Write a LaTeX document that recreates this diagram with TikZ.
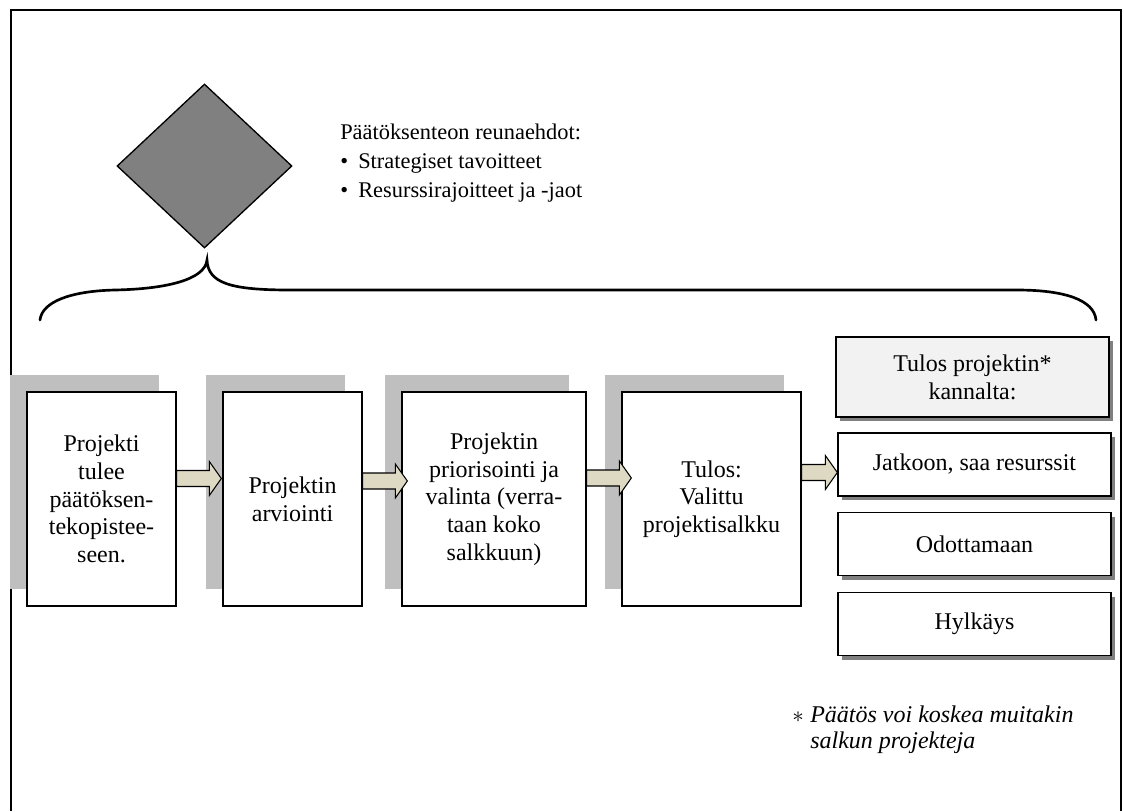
\documentclass[tikz,border=0pt]{standalone}
\usepackage{fontspec}
\setmainfont{Liberation Serif}
\usetikzlibrary{shapes.geometric,shadows,calc}
\definecolor{panelshadow}{RGB}{191,191,191}
\definecolor{boxshadow}{RGB}{128,128,128}
\definecolor{arrowfill}{RGB}{221,217,195}
\definecolor{headfill}{RGB}{242,242,242}
\definecolor{diamondgray}{RGB}{128,128,128}

% block arrow: source node, target node, y position, tip overshoot into target
\newcommand\stagearrow[4]{%
  \path (#1.east |- 0,#3) coordinate (sa-from) (#2.west |- 0,#3) coordinate (sa-to);
  \draw[barrow] ($(sa-from)+(0,-8)$) -- ($(sa-to)+(#4-12,-8)$) -- ($(sa-to)+(#4-12,-17)$)
    -- ($(sa-to)+(#4,0)$) -- ($(sa-to)+(#4-12,17)$) -- ($(sa-to)+(#4-12,8)$)
    -- ($(sa-from)+(0,8)$) -- cycle;
}

\begin{document}
\begin{tikzpicture}[x=0.75pt,y=-0.75pt,
  stage/.style={draw,line width=1pt,fill=white,inner sep=0pt,align=center,
    minimum height=160.5pt,font=\fontsize{18}{20.8}\selectfont,
    general shadow={fill=panelshadow,shadow xshift=-12.75pt,shadow yshift=13pt}},
  outcome/.style={draw,line width=1pt,fill=white,inner sep=0pt,align=center,
    minimum width=204.75pt,minimum height=47.25pt,font=\fontsize{18}{20.8}\selectfont,
    drop shadow={fill=boxshadow,opacity=1,shadow xshift=3pt,shadow yshift=-3pt}},
  barrow/.style={draw,line width=0.8pt,fill=arrowfill,line join=miter},
  brace/.style={line width=2pt,line cap=round},
]
\useasboundingbox (0,0) rectangle (1124,811);
\fill[white] (0,0) rectangle (1124,811);

% outer frame, open at the bottom
\draw[line width=1.5pt] (11,811) -- (11,9.5) -- (1121,9.5) -- (1121,811);

% decision point
\node[diamond,draw,line width=1pt,fill=diamondgray,inner sep=0pt,
  minimum width=131.25pt,minimum height=123pt] (gate) at (204.5,166) {};

% conditions list (base anchor sits on the last line)
\node[anchor=base west,align=left,inner sep=0pt,font=\fontsize{16.8}{21.75}\selectfont]
  (limits) at (340,197)
  {Päätöksenteon reunaehdot:\\
   \makebox[13.5pt][l]{•}Strategiset tavoitteet\\
   \makebox[13.5pt][l]{•}Resurssirajoitteet ja -jaot};

% curly brace under the decision point
\draw[brace] (40,320) .. controls (42,302) and (70,291) .. (115,290)
  .. controls (165,289) and (205,280) .. (207,260)
  .. controls (208,283) and (230,290) .. (290,290) -- (1017,290)
  .. controls (1065,290) and (1094,300) .. (1096,320);

% process stages
\node[stage,minimum width=111.75pt] (s1) at (101.5,499)
  {Projekti\\tulee\\päätöksen-\\tekopistee-\\seen.};
\node[stage,minimum width=104.25pt] (s2) at (292.5,499) {Projektin\\arviointi};
\node[stage,minimum width=138pt] (s3) at (494,499)
  {Projektin\\priorisointi ja\\valinta (verra-\\taan koko\\salkkuun)};
\node[stage,minimum width=134.25pt] (s4) at (711.5,499)
  {Tulos:\\Valittu\\projektisalkku};

% outcomes
\node[outcome,fill=headfill,minimum height=60pt] (head) at (972.5,377)
  {Tulos projektin*\\kannalta:};
\node[outcome] (go) at (974.5,464.5) {Jatkoon, saa resurssit};
\node[outcome] (wait) at (974.5,544) {Odottamaan};
\node[outcome] (reject) at (974.5,624) {Hylkäys};

% flow arrows
\stagearrow{s1}{s2}{478.5}{-1}
\stagearrow{s2}{s3}{481}{6}
\stagearrow{s3}{s4}{478}{10}
\stagearrow{s4}{go}{472.5}{0}

% footnote
\node[anchor=base west,align=left,inner sep=0pt,font=\fontsize{18}{19.5}\selectfont]
  (note) at (792,748)
  {\makebox[13.5pt][l]{$\ast$}\textit{Päätös voi koskea muitakin}\\
   \hspace*{13.5pt}\textit{salkun projekteja}};
\end{tikzpicture}
\end{document}
